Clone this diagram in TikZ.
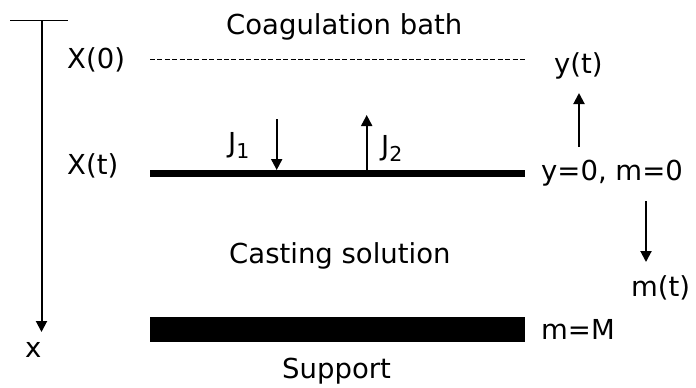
\documentclass[tikz,border=0pt]{standalone}
\usepackage{fontspec}
\setmainfont{DejaVu Sans}
\usetikzlibrary{arrows.meta}
\tikzset{
  lbl/.style={inner sep=0pt, anchor=base west, font=\fontsize{27.5}{32}\selectfont},
  thin/.style={line width=1.6pt},
  arr/.style={line width=2pt, -{Triangle[length=11pt,width=11pt]}},
}
\newcommand{\sbs}[1]{\raisebox{-6pt}{\fontsize{20.5}{24}\selectfont #1}}
\begin{document}
\begin{tikzpicture}[x=1pt,y=-1pt]
  \useasboundingbox (0,0) rectangle (696,388);
  % depth axis
  \coordinate (axl) at (10,20.5);
  \coordinate (axr) at (68,20.5);
  \coordinate (axt) at (41.5,20.5);
  \coordinate (axb) at (41.5,332);
  \draw[thin] (axl) -- (axr);
  \draw[arr] (axt) -- (axb);
  \node[lbl] (xl) at (25,357) {x};
  % region titles
  \node[lbl] (bath) at (226,34) {Coagulation bath};
  \node[lbl] (cast) at (229,263) {Casting solution};
  \node[lbl] (supp) at (282,378) {Support};
  % initial interface
  \node[lbl] (x0) at (67,68.5) {X(0)};
  \coordinate (d1) at (150,59.3);
  \coordinate (d2) at (527,59.3);
  \draw[line width=1.3pt, dash pattern=on 5pt off 2.4pt] (d1) -- (d2);
  \node[lbl] (yt) at (554,73) {y(t)};
  % moving interface
  \node[lbl] (xt) at (67,174) {X(t)};
  \coordinate (s1) at (150,173);
  \coordinate (s2) at (525,173);
  \draw[line width=7pt] (s1) -- (s2);
  \node[lbl] (y0) at (541,180) {y=0, m=0};
  % fluxes across the interface
  \coordinate (j1t) at (276.7,119);
  \coordinate (j1b) at (276.7,170);
  \draw[arr] (j1t) -- (j1b);
  \node[lbl] (j1) at (228,152) {J\sbs{1}};
  \coordinate (j2b) at (366.7,170);
  \coordinate (j2t) at (366.7,115);
  \draw[arr] (j2b) -- (j2t);
  \node[lbl] (j2) at (381,155) {J\sbs{2}};
  % coordinate directions
  \coordinate (ya) at (579,147);
  \coordinate (yb) at (579,93);
  \draw[arr] (ya) -- (yb);
  \coordinate (ma) at (646,201);
  \coordinate (mb) at (646,262);
  \draw[arr] (ma) -- (mb);
  \node[lbl] (mt) at (631,296) {m(t)};
  % support plate
  \node[fill=black, inner sep=0pt, minimum width=375pt, minimum height=25pt] (sup) at (337.5,329.5) {};
  \node[lbl] (mM) at (541,339) {m=M};
\end{tikzpicture}
\end{document}
